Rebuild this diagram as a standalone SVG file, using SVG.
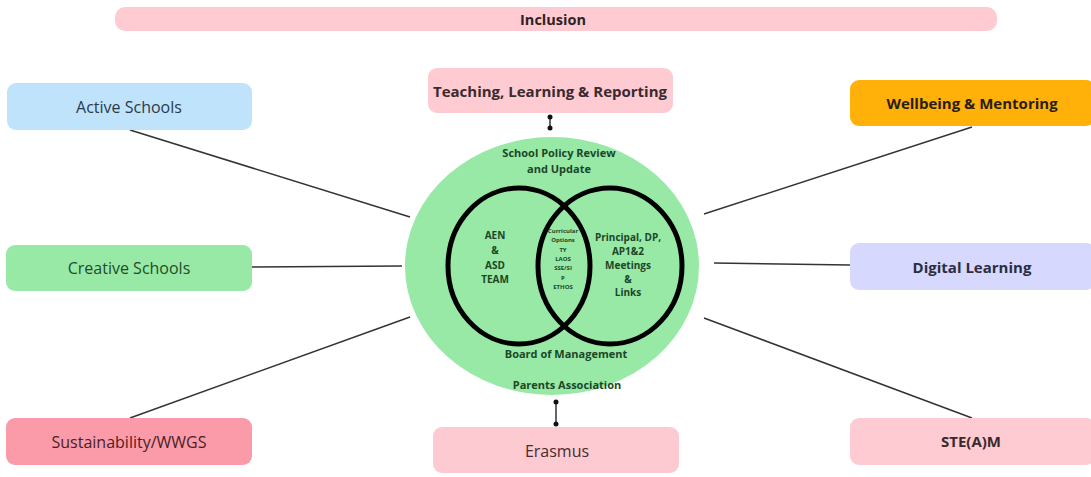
<svg xmlns="http://www.w3.org/2000/svg" width="1091" height="477" viewBox="0 0 1091 477">
<style>
.lbl{font-family:"Open Sans","Liberation Sans",sans-serif;font-size:16px;text-anchor:middle;dominant-baseline:central}
.b{font-weight:700;font-size:15px}
.in{font-family:"Open Sans","Liberation Sans",sans-serif;font-weight:700;fill:#1a4726;text-anchor:middle;dominant-baseline:central}
.con{stroke:#333;stroke-width:1.5;fill:none}
</style>
<rect width="1091" height="477" fill="#ffffff"/>
<g id="connectors">
<line class="con" x1="130" y1="130" x2="410" y2="217"/>
<line class="con" x1="252" y1="267" x2="402" y2="266"/>
<line class="con" x1="130" y1="418" x2="410" y2="317"/>
<line class="con" x1="972" y1="127" x2="704" y2="214"/>
<line class="con" x1="714" y1="263" x2="850" y2="265"/>
<line class="con" x1="704" y1="318" x2="972" y2="418"/>
<line class="con" x1="550" y1="117" x2="550" y2="128"/>
<circle cx="550" cy="117" r="2.5" fill="#111"/><circle cx="550" cy="128" r="2.5" fill="#111"/>
<line class="con" x1="556" y1="402" x2="556" y2="424"/>
<circle cx="556" cy="402" r="2.5" fill="#111"/><circle cx="556" cy="424" r="2.5" fill="#111"/>
</g>
<g id="inclusion"><rect x="115" y="7" width="882" height="24" rx="10" fill="#fecbd2"/><text class="lbl b" x="553" y="19" style="font-size:14.5px" fill="#2e2226">Inclusion</text></g>
<g id="active"><rect x="7" y="83" width="245" height="47" rx="9" fill="#bfe3fb"/><text class="lbl" x="129" y="107" fill="#2b3a48">Active Schools</text></g>
<g id="teaching"><rect x="428" y="68" width="245" height="45" rx="9" fill="#fecbd2"/><text class="lbl b" x="550" y="91" fill="#3a2a2e">Teaching, Learning &amp; Reporting</text></g>
<g id="wellbeing"><rect x="850" y="80" width="245" height="46" rx="9" fill="#ffb10a"/><text class="lbl b" x="972" y="103" fill="#2a1e10">Wellbeing &amp; Mentoring</text></g>
<g id="creative"><rect x="6" y="245" width="246" height="46" rx="9" fill="#98e9a6"/><text class="lbl" x="129" y="268" fill="#1d4d2a">Creative Schools</text></g>
<g id="digital"><rect x="850" y="243" width="245" height="47" rx="9" fill="#d6d9fd"/><text class="lbl b" x="972" y="267" fill="#2b2e40">Digital Learning</text></g>
<g id="sustainability"><rect x="6" y="418" width="246" height="47" rx="9" fill="#fb9aa8"/><text class="lbl" x="129" y="442" fill="#4a1e26">Sustainability/WWGS</text></g>
<g id="erasmus"><rect x="433" y="427" width="246" height="46" rx="9" fill="#fccad0"/><text class="lbl" x="557" y="451" fill="#4a2a2e">Erasmus</text></g>
<g id="steam"><rect x="850" y="418" width="245" height="47" rx="9" fill="#fecbd2"/><text class="lbl b" x="971" y="441" fill="#3a2a2e">STE(A)M</text></g>
<g id="centre">
<ellipse cx="552" cy="266" rx="147" ry="129" fill="#98e8a6"/>
<ellipse cx="519" cy="266" rx="71" ry="78" fill="none" stroke="#000" stroke-width="5"/>
<ellipse cx="610" cy="266" rx="72" ry="78" fill="none" stroke="#000" stroke-width="5"/>
<text class="in" x="559" y="152" font-size="11">School Policy Review</text>
<text class="in" x="559" y="168" font-size="11">and Update</text>
<text class="in" x="495" y="235" font-size="10">AEN</text>
<text class="in" x="495" y="250" font-size="10">&amp;</text>
<text class="in" x="495" y="265" font-size="10">ASD</text>
<text class="in" x="495" y="279" font-size="10">TEAM</text>
<text class="in" x="628" y="237" font-size="10">Principal, DP,</text>
<text class="in" x="628" y="251" font-size="10">AP1&amp;2</text>
<text class="in" x="628" y="265" font-size="10">Meetings</text>
<text class="in" x="628" y="279" font-size="10">&amp;</text>
<text class="in" x="628" y="292" font-size="10">Links</text>
<text class="in" x="563" y="231" font-size="6">Curricular</text>
<text class="in" x="563" y="240" font-size="6">Options</text>
<text class="in" x="563" y="250" font-size="6">TY</text>
<text class="in" x="563" y="259" font-size="6">LAOS</text>
<text class="in" x="563" y="268" font-size="6">SSE/SI</text>
<text class="in" x="563" y="278" font-size="6">P</text>
<text class="in" x="563" y="287" font-size="6">ETHOS</text>
<text class="in" x="566" y="353" font-size="11">Board of Management</text>
<text class="in" x="567" y="384" font-size="11">Parents Association</text>
</g>
</svg>
